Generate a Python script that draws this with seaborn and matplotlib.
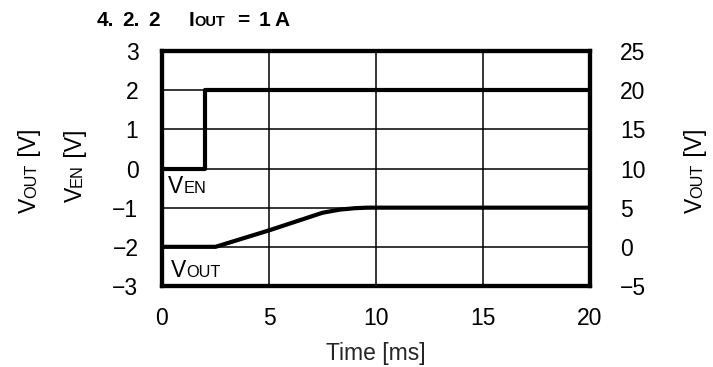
import matplotlib
matplotlib.use('Agg')
import matplotlib.pyplot as plt
import seaborn as sns
import pandas as pd

# Data
t_en = [0, 2.0, 2.0, 20]
v_en = [0, 0, 2, 2]
t_out = [0, 2.5, 5, 7.5, 8.3, 9.0, 9.6, 20]
v_out = [0, 0, 2.1, 4.35, 4.75, 4.93, 5, 5]

x_ticks = [0, 5, 10, 15, 20]
left_ticks = [-3, -2, -1, 0, 1, 2, 3]
right_ticks = [-5, 0, 5, 10, 15, 20, 25]

sns.set_theme(style='white')
plt.rcParams['font.family'] = ['Liberation Sans', 'DejaVu Sans']
plt.rcParams['axes.unicode_minus'] = True

BIG = 16.5
SMALL = 11.8
TBIG = 15
TSMALL = 10.5

fig = plt.figure(figsize=(7.13, 3.67), dpi=100)
ax = fig.add_axes([162 / 713, 1 - 286 / 367, 428 / 713, 235 / 367])
ax2 = ax.twinx()

df_en = pd.DataFrame({'t': t_en, 'v': v_en})
df_out = pd.DataFrame({'t': t_out, 'v': v_out})
sns.lineplot(data=df_en, x='t', y='v', ax=ax, color='black', lw=3, sort=False, estimator=None)
sns.lineplot(data=df_out, x='t', y='v', ax=ax2, color='black', lw=3, sort=False, estimator=None)

ax.set_xlim(0, 20)
ax.set_ylim(-3, 3)
ax2.set_ylim(-5, 25)
ax.set_xticks(x_ticks)
ax.set_yticks(left_ticks)
ax2.set_yticks(right_ticks)
ax.set_yticklabels([str(v).replace('-', '\u2212') for v in left_ticks])
ax2.set_yticklabels([str(v).replace('-', '\u2212') for v in right_ticks])
ax.set_xlabel('Time [ms]', fontsize=BIG, labelpad=9)
ax.set_ylabel('')
ax2.set_ylabel('')
ax.grid(True, color='black', lw=1.1)
ax.tick_params(axis='both', length=0, labelsize=BIG, colors='black')
ax.tick_params(axis='y', pad=17)
ax.tick_params(axis='x', pad=15)
ax2.tick_params(axis='y', length=0, labelsize=BIG, pad=21.5, colors='black')
for a in (ax, ax2):
    for s in a.spines.values():
        s.set_linewidth(3)
        s.set_color('black')
ax.set_zorder(ax2.get_zorder() + 1)
ax.patch.set_visible(False)
ax2.patch.set_visible(True)
ax2.patch.set_facecolor('white')

renderer = fig.canvas.get_renderer()


def mixed(parts, x, y, rotation=0, weight='normal'):
    # draw text pieces of different sizes on a common baseline
    for s, size in parts:
        txt = fig.text(x, y, s, fontsize=size, rotation=rotation, rotation_mode='anchor',
                       ha='left', va='baseline', fontweight=weight, color='black')
        bb = txt.get_window_extent(renderer).transformed(fig.transFigure.inverted())
        if rotation == 0:
            x = bb.x1
        else:
            y = bb.y1


# title pieces, widely spaced as in the original
base = 1 - 25.5 / 367
for s, px in [('4.', 97), ('2.', 122), ('2', 148)]:
    mixed([(s, TBIG)], px / 713, base, weight='bold')
mixed([('I', TBIG), ('OUT', TSMALL)], 189 / 713, base, weight='bold')
mixed([('=', TBIG)], 237 / 713, base, weight='bold')
mixed([('1', TBIG)], 259 / 713, base, weight='bold')
mixed([('A', TBIG)], 274 / 713, base, weight='bold')

# axis labels
mixed([('V', BIG), ('OUT', SMALL), (' [V]', BIG)], 36 / 713, 1 - 213 / 367, rotation=90)
mixed([('V', BIG), ('EN', SMALL), (' [V]', BIG)], 82 / 713, 1 - 202 / 367, rotation=90)
mixed([('V', BIG), ('OUT', SMALL), (' [V]', BIG)], 702 / 713, 1 - 213 / 367, rotation=90)

# in-plot labels
mixed([('V', BIG), ('EN', SMALL)], 168 / 713, 1 - 193 / 367)
mixed([('V', BIG), ('OUT', SMALL)], 171 / 713, 1 - 277 / 367)

fig.savefig('out.png', dpi=100)
